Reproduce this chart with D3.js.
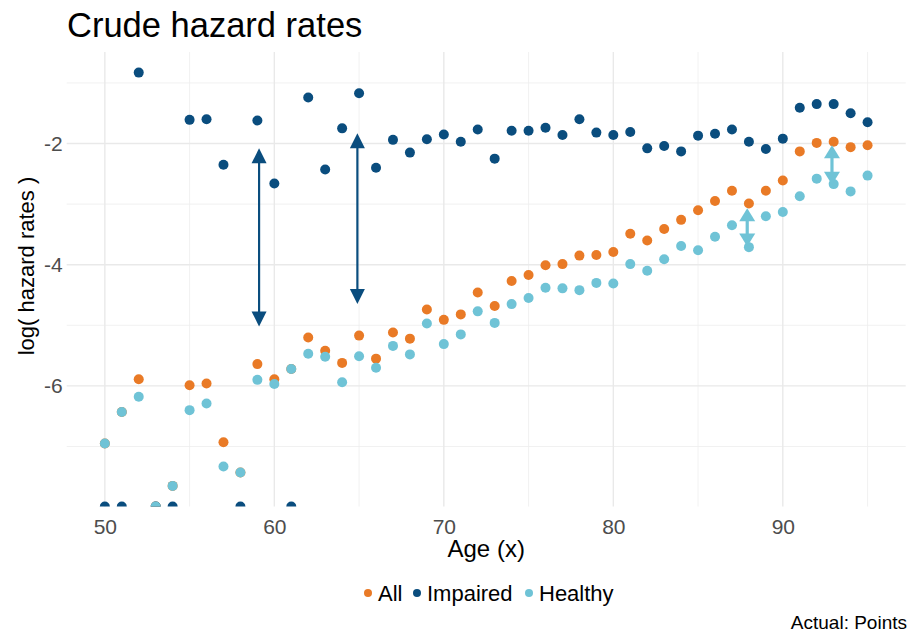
<!DOCTYPE html>
<html>
<head>
<meta charset="utf-8">
<script src="https://cdn.jsdelivr.net/npm/d3@7"></script>
<style>
  body { margin: 0; background: #fff; }
  text { font-family: "Liberation Sans", Arial, Helvetica, sans-serif; }
</style>
</head>
<body>
<svg id="chart" width="911" height="636"></svg>
<script>
// ages 50..95, log crude hazard rates; -Infinity = zero deaths (drawn on the panel edge)
var ages = d3.range(50, 96);

var allRates = [
  -6.95, -6.43, -5.89, -Infinity, -7.65, -5.99, -5.96, -6.93, -7.43, -5.64,
  -5.89, -5.72, -5.20, -5.42, -5.62, -5.17, -5.55, -5.12, -5.22, -4.74,
  -4.91, -4.82, -4.46, -4.68, -4.27, -4.17, -4.01, -3.99, -3.85, -3.84,
  -3.79, -3.49, -3.60, -3.41, -3.26, -3.10, -2.95, -2.78, -2.99, -2.78,
  -2.61, -2.13, -1.99, -1.97, -2.06, -2.03
];

var impairedRates = [
  -Infinity, -Infinity, -0.83, -Infinity, -Infinity, -1.61, -1.60, -2.35, -Infinity, -1.62,
  -2.66, -Infinity, -1.24, -2.43, -1.75, -1.17, -2.40, -1.94, -2.15, -1.93,
  -1.85, -1.97, -1.77, -2.25, -1.79, -1.79, -1.74, -1.86, -1.60, -1.82,
  -1.86, -1.81, -2.08, -2.04, -2.13, -1.87, -1.84, -1.77, -1.97, -2.09,
  -1.92, -1.41, -1.35, -1.35, -1.50, -1.65
];

var healthyRates = [
  -6.95, -6.43, -6.18, -Infinity, -7.65, -6.40, -6.29, -7.33, -7.43, -5.90,
  -5.97, -5.72, -5.47, -5.52, -5.94, -5.51, -5.70, -5.34, -5.48, -4.97,
  -5.31, -5.15, -4.77, -4.96, -4.65, -4.55, -4.38, -4.39, -4.42, -4.30,
  -4.31, -3.99, -4.10, -3.91, -3.69, -3.76, -3.54, -3.35, -3.71, -3.20,
  -3.13, -2.87, -2.58, -2.67, -2.79, -2.53
];

var seriesNames = ["All", "Impaired", "Healthy"];
var seriesColors = ["#e97a26", "#0a4d7e", "#6fc3d6"];

// gap arrows: age, from, to, group
var arrowAges = [59.1, 64.9, 87.9, 92.9];
var arrowFrom = [-2.08, -1.83, -3.07, -2.03];
var arrowTo = [-5.02, -4.65, -3.70, -2.68];
var arrowGroup = [1, 1, 2, 2];

var xMajor = [50, 60, 70, 80, 90];
var xMinor = [55, 65, 75, 85, 95];
var yMajor = [-2, -4, -6];
var yMinor = [-1, -3, -5, -7];

var svg = d3.select("#chart");
var panel = { left: 66.7, right: 905.7, top: 52, bottom: 506.5 };

var x = d3.scaleLinear().domain([47.75, 97.25]).range([panel.left, panel.right]);
var y = d3.scaleLinear().domain([-7.99, -0.49]).range([panel.bottom, panel.top]);

svg.append("defs").append("clipPath").attr("id", "panel-clip")
  .append("rect")
  .attr("x", panel.left).attr("y", panel.top)
  .attr("width", panel.right - panel.left).attr("height", panel.bottom - panel.top);

// grid
var grid = svg.append("g").attr("class", "grid");
grid.selectAll("line.ymin").data(yMinor).enter().append("line")
  .attr("x1", panel.left).attr("x2", panel.right)
  .attr("y1", d => y(d)).attr("y2", d => y(d))
  .attr("stroke", "#eeeeee").attr("stroke-width", 0.8);
grid.selectAll("line.xmin").data(xMinor).enter().append("line")
  .attr("y1", panel.top).attr("y2", panel.bottom)
  .attr("x1", d => x(d)).attr("x2", d => x(d))
  .attr("stroke", "#eeeeee").attr("stroke-width", 0.8);
grid.selectAll("line.ymaj").data(yMajor).enter().append("line")
  .attr("x1", panel.left).attr("x2", panel.right)
  .attr("y1", d => y(d)).attr("y2", d => y(d))
  .attr("stroke", "#e9e9e9").attr("stroke-width", 1.4);
grid.selectAll("line.xmaj").data(xMajor).enter().append("line")
  .attr("y1", panel.top).attr("y2", panel.bottom)
  .attr("x1", d => x(d)).attr("x2", d => x(d))
  .attr("stroke", "#e9e9e9").attr("stroke-width", 1.4);

// axes (labels only, like theme_minimal)
var xAxis = svg.append("g")
  .attr("transform", "translate(0," + panel.bottom + ")")
  .call(d3.axisBottom(x).tickValues(xMajor).tickSize(0).tickPadding(13));
var yAxis = svg.append("g")
  .attr("transform", "translate(" + panel.left + ",0)")
  .call(d3.axisLeft(y).tickValues(yMajor).tickSize(0).tickPadding(4)
    .tickFormat(d => String(d)));
[xAxis, yAxis].forEach(function(a) {
  a.select(".domain").remove();
  a.selectAll("text")
    .attr("fill", "#4d4d4d")
    .style("font-size", "21px")
    .style("font-family", "'Liberation Sans', Arial, sans-serif");
});

// points
var series = [allRates, impairedRates, healthyRates];
var pts = svg.append("g").attr("clip-path", "url(#panel-clip)");
series.forEach(function(vals, i) {
  pts.append("g").selectAll("circle")
    .data(ages.map((a, j) => ({ age: a, v: vals[j] })))
    .enter().append("circle")
    .attr("cx", d => x(d.age))
    .attr("cy", d => isFinite(d.v) ? y(d.v) : panel.bottom)
    .attr("r", 5)
    .attr("fill", seriesColors[i]);
});

// arrows
var arrowStyle = {
  1: { color: seriesColors[1], width: 2.2, headW: 7.5, headL: 15 },
  2: { color: seriesColors[2], width: 3.2, headW: 8, headL: 13 }
};
var arrows = svg.append("g");
arrowAges.forEach(function(a, i) {
  var s = arrowStyle[arrowGroup[i]];
  var ax = x(a), y1 = y(arrowFrom[i]), y2 = y(arrowTo[i]);
  arrows.append("line")
    .attr("x1", ax).attr("x2", ax)
    .attr("y1", y1 + s.headL - 2).attr("y2", y2 - s.headL + 2)
    .attr("stroke", s.color).attr("stroke-width", s.width);
  arrows.append("path")
    .attr("d", "M" + ax + "," + y1 + "L" + (ax - s.headW) + "," + (y1 + s.headL) +
      "L" + (ax + s.headW) + "," + (y1 + s.headL) + "Z")
    .attr("fill", s.color);
  arrows.append("path")
    .attr("d", "M" + ax + "," + y2 + "L" + (ax - s.headW) + "," + (y2 - s.headL) +
      "L" + (ax + s.headW) + "," + (y2 - s.headL) + "Z")
    .attr("fill", s.color);
});

// titles
svg.append("text").attr("x", 67).attr("y", 37)
  .style("font-size", "34.5px").attr("fill", "#000").text("Crude hazard rates");

svg.append("text").attr("x", (panel.left + panel.right) / 2).attr("y", 557)
  .attr("text-anchor", "middle").style("font-size", "24px").attr("fill", "#000")
  .text("Age (x)");

svg.append("text")
  .attr("transform", "translate(34,266) rotate(-90)")
  .attr("text-anchor", "middle").style("font-size", "22px").attr("fill", "#000")
  .text("log( hazard rates )");

// legend
var legendX = [368, 417, 529];
var legend = svg.append("g");
seriesNames.forEach(function(n, i) {
  legend.append("circle").attr("cx", legendX[i]).attr("cy", 593).attr("r", 4)
    .attr("fill", seriesColors[i]);
  legend.append("text").attr("x", legendX[i] + 10).attr("y", 601)
    .style("font-size", "22px").attr("fill", "#000").text(n);
});

svg.append("text").attr("x", 907).attr("y", 629).attr("text-anchor", "end")
  .style("font-size", "19px").attr("fill", "#000").text("Actual: Points");
</script>
</body>
</html>
